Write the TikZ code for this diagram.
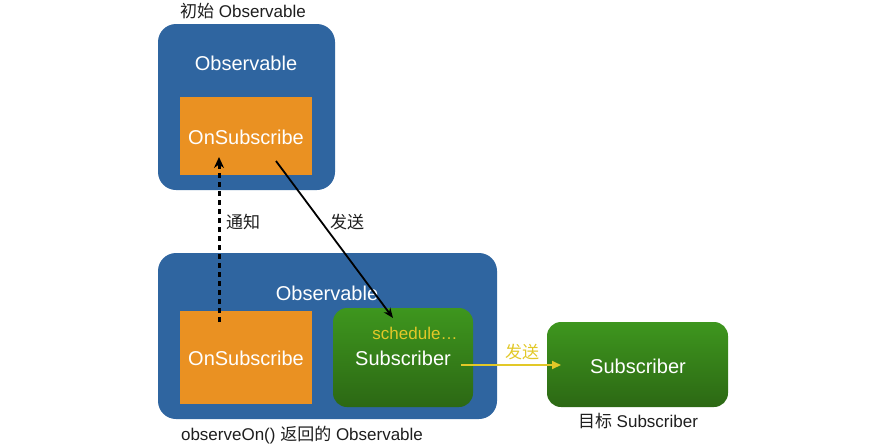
\documentclass[tikz,border=0pt]{standalone}
\usepackage{fontspec}
\setmainfont{Liberation Sans}
\newfontfamily\cjk{Noto Sans CJK SC}
\usetikzlibrary{arrows.meta}
\definecolor{obsblue}{RGB}{47,101,160}
\definecolor{onorange}{RGB}{234,145,34}
\definecolor{gtop}{RGB}{62,150,30}
\definecolor{gbot}{RGB}{44,104,20}
\definecolor{ylw}{RGB}{226,200,40}
\definecolor{lbl}{RGB}{30,30,30}
\tikzset{
  obsbox/.style={draw=none,fill=obsblue,rounded corners=18pt,inner sep=0pt},
  onbox/.style={draw=none,fill=onorange,inner sep=0pt},
  subbox/.style={draw=none,top color=gtop,bottom color=gbot,rounded corners=14pt,inner sep=0pt},
  wtext/.style={text=white,font=\fontsize{20}{24}\selectfont,inner sep=0pt},
  lbltext/.style={text=lbl,font=\fontsize{17}{20}\selectfont,inner sep=0pt},
  conn/.style={line width=1.8pt,-{Stealth[length=10pt,width=8pt]}},
}
\begin{document}
\begin{tikzpicture}[x=1pt,y=-1pt]
\useasboundingbox (0,0) rectangle (890,445);
% boxes
\node[obsbox,minimum width=177pt,minimum height=166pt] (obs1) at (246.5,107) {};
\node[onbox,minimum width=132pt,minimum height=78pt] (on1) at (246,136) {};
\node[obsbox,minimum width=339pt,minimum height=166pt] (obs2) at (327.5,336) {};
\node[onbox,minimum width=132pt,minimum height=93pt] (on2) at (246,357.5) {};
\node[subbox,minimum width=140pt,minimum height=99pt] (sub1) at (403,357.5) {};
\node[subbox,minimum width=181pt,minimum height=85pt] (sub2) at (637.5,364.5) {};
% texts
\node[lbltext] (t1) at (243,11) {{\cjk 初始} Observable};
\node[wtext] (t2) at (246,63) {Observable};
\node[wtext] (t3) at (246,137) {OnSubscribe};
\node[wtext] (t4) at (327,293) {Observable};
\node[wtext] (t5) at (246,358) {OnSubscribe};
\node[text=ylw,font=\fontsize{17}{20}\selectfont,inner sep=0pt] (t6) at (415,333) {schedule…};
\node[wtext] (t7) at (403,358) {Subscriber};
\node[wtext] (t8) at (638,366) {Subscriber};
\node[lbltext] (t9) at (638,421) {{\cjk 目标} Subscriber};
\node[lbltext] (t10) at (302,435) {observeOn() {\cjk 返回的} Observable};
% connectors
\coordinate (dA) at (219,322);
\coordinate (dB) at (219,157);
\coordinate (sA) at (276,161);
\coordinate (sB) at (393,318);
\coordinate (yA) at (461,365);
\coordinate (yB) at (561,365);
\draw[conn,line width=3pt,dash pattern=on 5.5pt off 3.5pt,-{Stealth[length=11pt,width=10pt]}] (dA) -- (dB);
\draw[conn] (sA) -- (sB);
\draw[ylw,line width=1.8pt,-{Triangle[length=9pt,width=8pt]}] (yA) -- (yB);
\node[lbltext,font=\cjk\fontsize{17}{20}\selectfont] (l1) at (243,222) {通知};
\node[lbltext,font=\cjk\fontsize{17}{20}\selectfont] (l2) at (347,222) {发送};
\node[text=ylw,font=\cjk\fontsize{17}{20}\selectfont,inner sep=0pt] (l3) at (522,352) {发送};
\end{tikzpicture}
\end{document}
